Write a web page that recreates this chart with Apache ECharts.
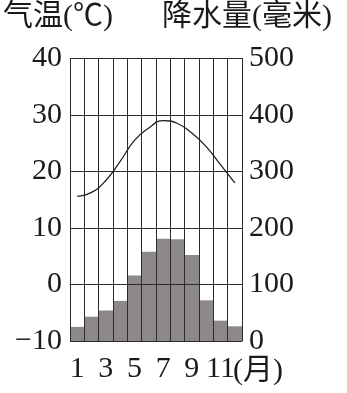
<!DOCTYPE html>
<html><head><meta charset="utf-8">
<script src="https://cdn.jsdelivr.net/npm/echarts@6/dist/echarts.min.js"></script>
<style>html,body{margin:0;padding:0;background:#fff}#c{width:347px;height:393px}</style>
</head><body><div id="c"></div>
<script>
const months = ['1','2','3','4','5','6','7','8','9','10','11','12'];
const temperature = [15.6, 16.3, 18.4, 21.8, 25.5, 27.7, 29.0, 28.5, 26.8, 24.4, 21.2, 18.0];
const precipitation = [25, 43, 54, 71, 116, 158, 181, 180, 152, 72, 36, 26];
const tempTitle = '气温(℃)';
const precTitle = '降水量(毫米)';
const monthUnit = '(月)';

const serif = '"Liberation Serif", "Noto Sans CJK SC", serif';
const gridColor = '#2b2b2b';
const chart = echarts.init(document.getElementById('c'), null, {renderer: 'canvas'});
chart.setOption({
  backgroundColor: '#fff',
  animation: false,
  grid: {left: 70, right: 105, top: 58.5, bottom: 52, containLabel: false},
  xAxis: {
    type: 'category', data: months, boundaryGap: true, z: 5,
    axisLine: {show: true, lineStyle: {color: gridColor, width: 1}},
    axisTick: {show: false},
    splitLine: {show: true, interval: 0, lineStyle: {color: gridColor, width: 1}},
    axisLabel: {interval: 1, margin: 13, color: '#1a1a1a', fontFamily: serif, fontSize: 30}
  },
  yAxis: [{
    type: 'value', min: -10, max: 40, interval: 10, z: 5,
    axisLine: {show: true, lineStyle: {color: gridColor, width: 1}},
    axisTick: {show: false},
    splitLine: {show: true, lineStyle: {color: gridColor, width: 1}},
    axisLabel: {margin: 8, color: '#1a1a1a', fontFamily: serif, fontSize: 30,
      formatter: v => (v < 0 ? '\u2212' + Math.abs(v) : String(v))}
  }, {
    type: 'value', min: 0, max: 500, interval: 100, z: 5,
    axisLine: {show: true, lineStyle: {color: gridColor, width: 1}},
    axisTick: {show: false},
    splitLine: {show: false},
    axisLabel: {margin: 7, color: '#1a1a1a', fontFamily: serif, fontSize: 30}
  }],
  series: [{
    type: 'bar', yAxisIndex: 1, data: precipitation,
    barCategoryGap: '0%', z: 1,
    itemStyle: {color: '#8d8989'}
  }, {
    type: 'line', yAxisIndex: 0, data: temperature, smooth: 0.5, z: 6,
    symbol: 'none', lineStyle: {color: '#222', width: 1.3}
  }],
  graphic: [
    {type: 'text', left: 3, top: 2, style: {text: tempTitle, font: '30px ' + serif, fill: '#1a1a1a'}},
    {type: 'text', left: 162, top: 2, style: {text: precTitle, font: '30px ' + serif, fill: '#1a1a1a'}},
    {type: 'text', left: 233, top: 356, style: {text: monthUnit, font: '30px ' + serif, fill: '#1a1a1a'}}
  ]
});
</script></body></html>
